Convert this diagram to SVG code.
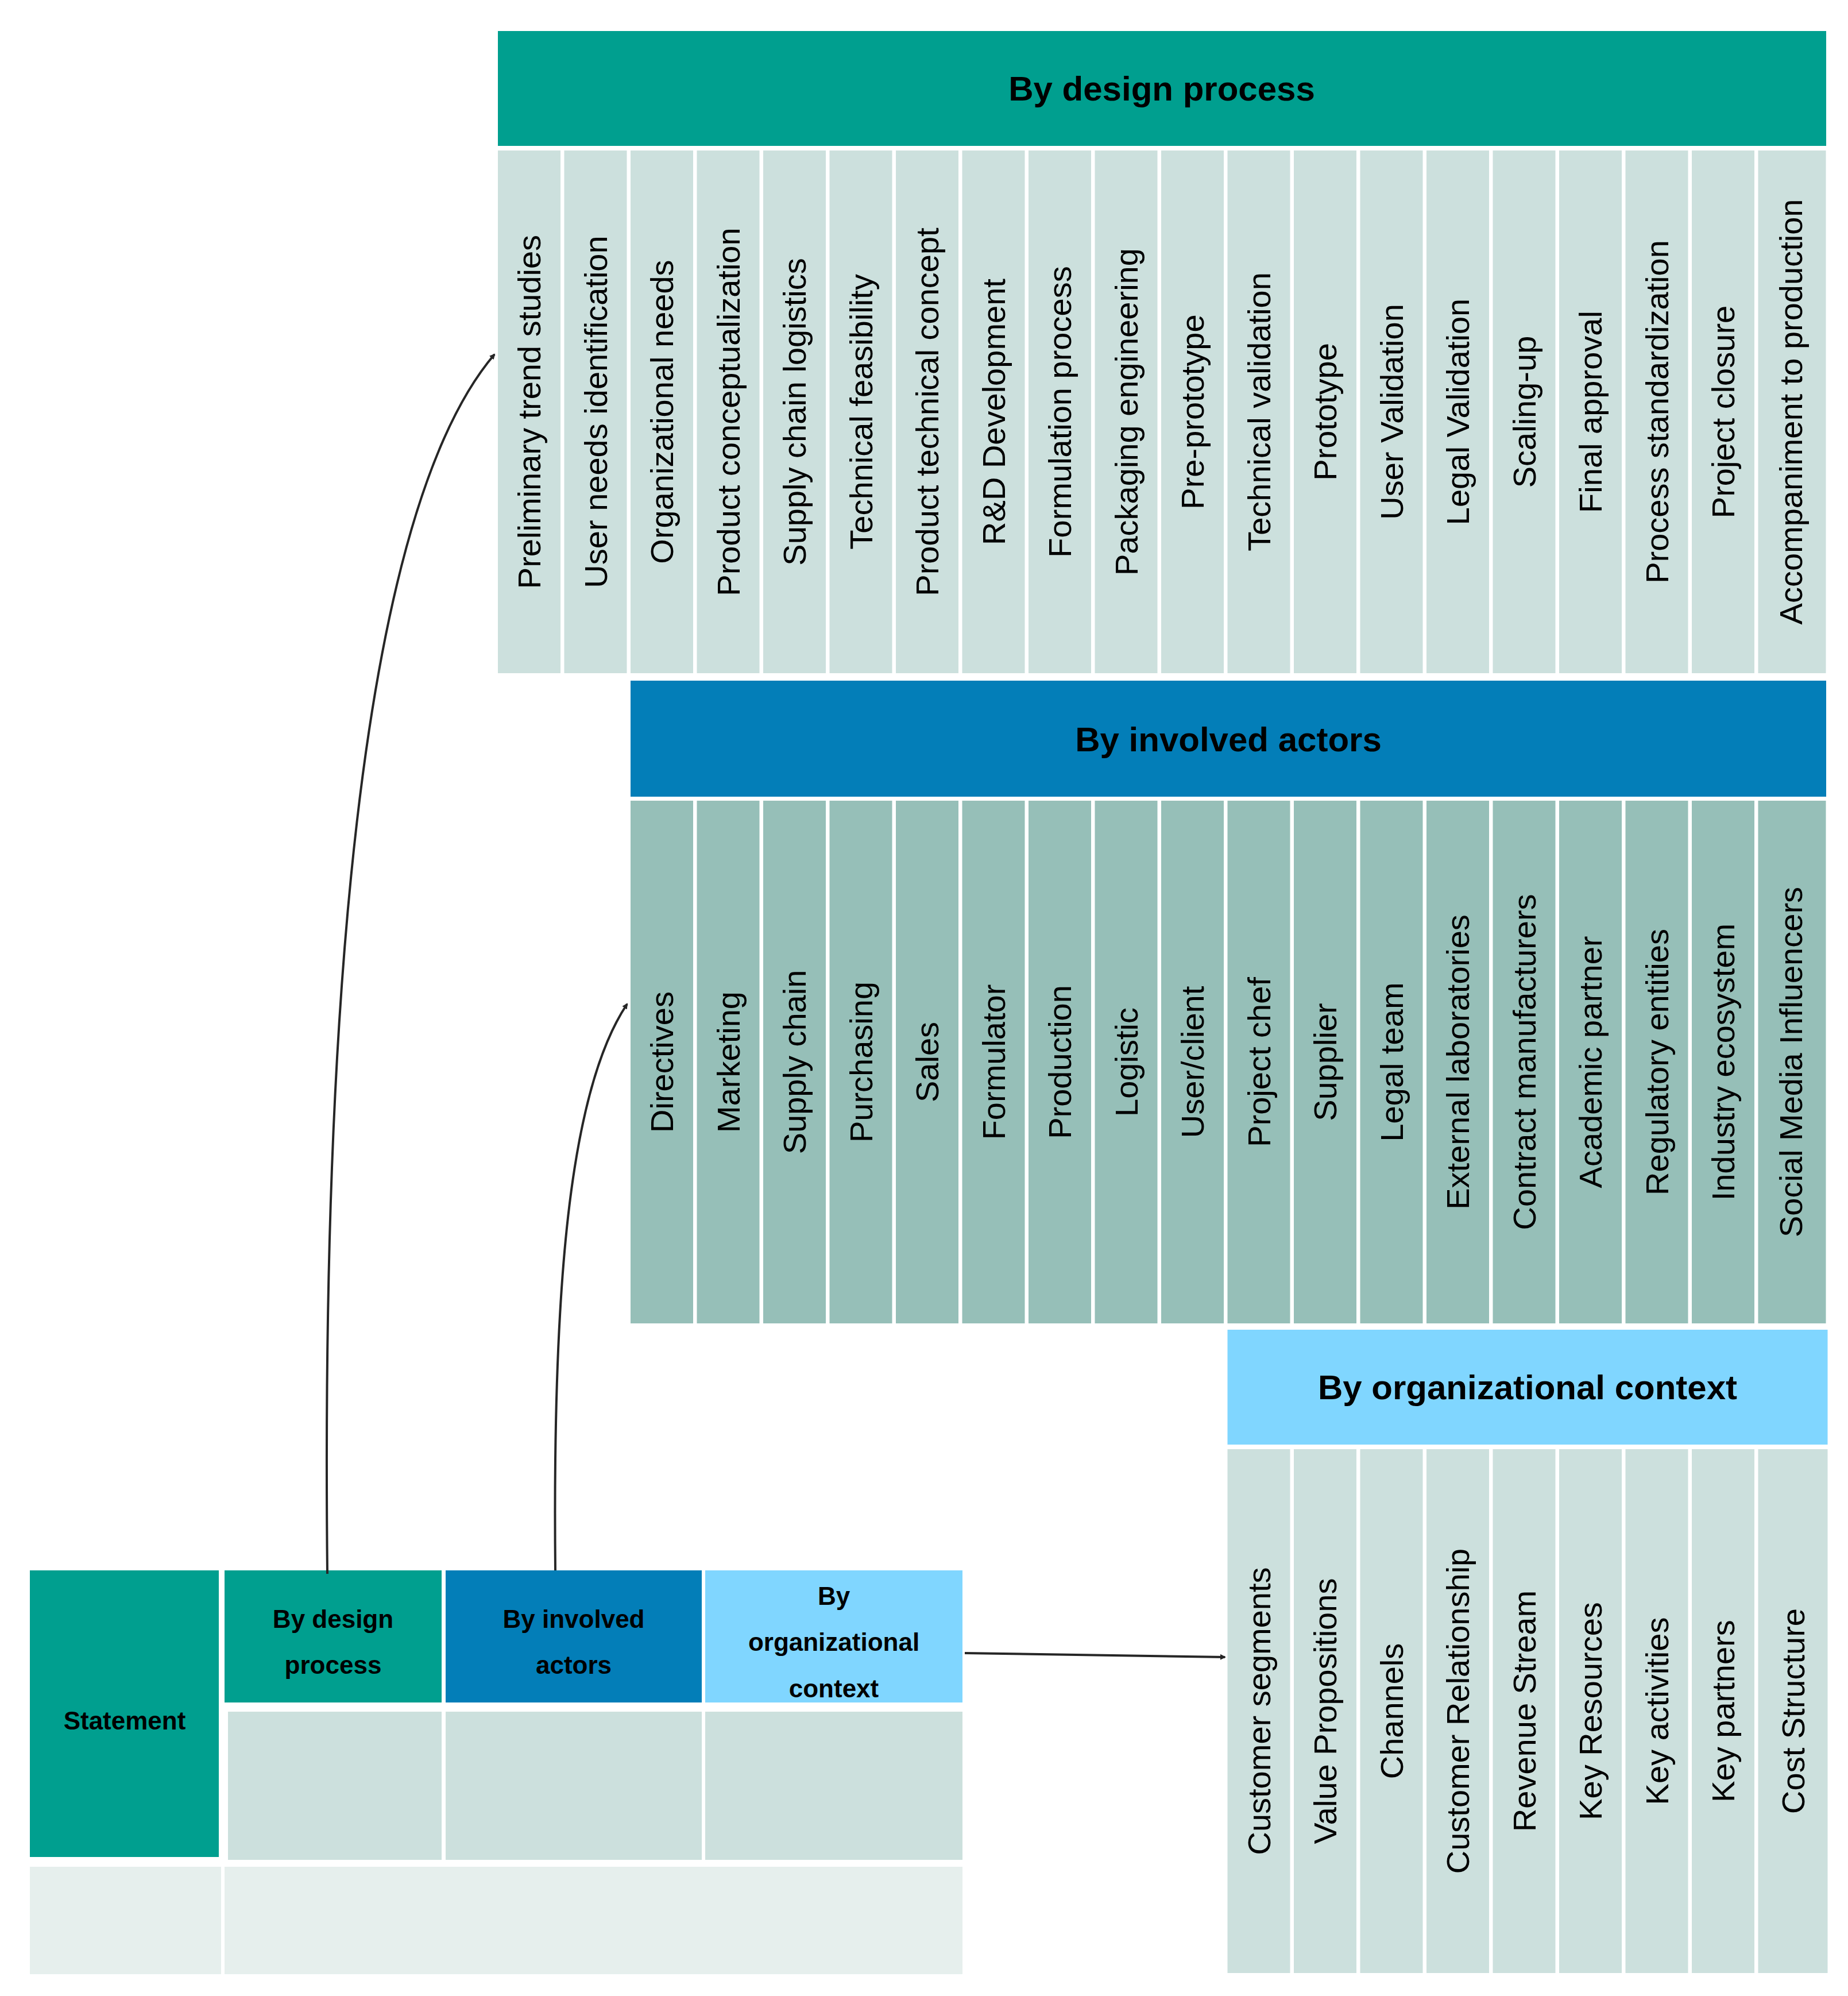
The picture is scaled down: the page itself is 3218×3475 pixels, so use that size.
<svg xmlns="http://www.w3.org/2000/svg" width="3218" height="3475" viewBox="0 0 3218 3475">
<style>
.v{font-family:"Liberation Sans",Arial,sans-serif;font-size:56px;fill:#000;text-anchor:middle;dominant-baseline:central}
.h{font-family:"Liberation Sans",Arial,sans-serif;font-size:60px;font-weight:bold;fill:#000;text-anchor:middle;dominant-baseline:central}
.b{font-family:"Liberation Sans",Arial,sans-serif;font-size:44px;font-weight:bold;fill:#000;text-anchor:middle;dominant-baseline:central}
.c1{fill:#CCE0DD}.c2{fill:#96BFB8}.c3{fill:#E6EFED}
.conn{fill:none;stroke:#262626;stroke-width:4}
</style>
<defs><marker id="ah" markerWidth="10" markerHeight="10" refX="8" refY="5" orient="auto" markerUnits="userSpaceOnUse" viewBox="0 0 10 10"><path d="M0,0 L10,5 L0,10 z" fill="#262626"/></marker></defs>
<rect width="3218" height="3475" fill="#fff"/>
<g id="design-process">
<rect x="867" y="54" width="2313" height="200" fill="#009F8F"/>
<text class="h" x="2023" y="154">By design process</text>
<rect class="c1" x="867" y="262" width="109" height="910"/><text class="v" transform="translate(921.5,717) rotate(-90)">Preliminary trend studies</text>
<rect class="c1" x="982.5" y="262" width="109" height="910"/><text class="v" transform="translate(1037,717) rotate(-90)">User needs identification</text>
<rect class="c1" x="1098" y="262" width="109" height="910"/><text class="v" transform="translate(1152.5,717) rotate(-90)">Organizational needs</text>
<rect class="c1" x="1213.5" y="262" width="109" height="910"/><text class="v" transform="translate(1268,717) rotate(-90)">Product conceptualization</text>
<rect class="c1" x="1329" y="262" width="109" height="910"/><text class="v" transform="translate(1383.5,717) rotate(-90)">Supply chain logistics</text>
<rect class="c1" x="1444.5" y="262" width="109" height="910"/><text class="v" transform="translate(1499,717) rotate(-90)">Technical feasibility</text>
<rect class="c1" x="1560" y="262" width="109" height="910"/><text class="v" transform="translate(1614.5,717) rotate(-90)">Product technical concept</text>
<rect class="c1" x="1675.5" y="262" width="109" height="910"/><text class="v" transform="translate(1730,717) rotate(-90)">R&amp;D Development</text>
<rect class="c1" x="1791" y="262" width="109" height="910"/><text class="v" transform="translate(1845.5,717) rotate(-90)">Formulation process</text>
<rect class="c1" x="1906.5" y="262" width="109" height="910"/><text class="v" transform="translate(1961,717) rotate(-90)">Packaging engineering</text>
<rect class="c1" x="2022" y="262" width="109" height="910"/><text class="v" transform="translate(2076.5,717) rotate(-90)">Pre-prototype</text>
<rect class="c1" x="2137.5" y="262" width="109" height="910"/><text class="v" transform="translate(2192,717) rotate(-90)">Technical validation</text>
<rect class="c1" x="2253" y="262" width="109" height="910"/><text class="v" transform="translate(2307.5,717) rotate(-90)">Prototype</text>
<rect class="c1" x="2368.5" y="262" width="109" height="910"/><text class="v" transform="translate(2423,717) rotate(-90)">User Validation</text>
<rect class="c1" x="2484" y="262" width="109" height="910"/><text class="v" transform="translate(2538.5,717) rotate(-90)">Legal Validation</text>
<rect class="c1" x="2599.5" y="262" width="109" height="910"/><text class="v" transform="translate(2654,717) rotate(-90)">Scaling-up</text>
<rect class="c1" x="2715" y="262" width="109" height="910"/><text class="v" transform="translate(2769.5,717) rotate(-90)">Final approval</text>
<rect class="c1" x="2830.5" y="262" width="109" height="910"/><text class="v" transform="translate(2885,717) rotate(-90)">Process standardization</text>
<rect class="c1" x="2946" y="262" width="109" height="910"/><text class="v" transform="translate(3000.5,717) rotate(-90)">Project closure</text>
<rect class="c1" x="3061.5" y="262" width="118" height="910"/><text class="v" transform="translate(3118,717) rotate(-90)">Accompaniment to production</text>
</g>
<g id="involved-actors">
<rect x="1098" y="1185" width="2082" height="202" fill="#037EB8"/>
<text class="h" x="2139" y="1287">By involved actors</text>
<rect class="c2" x="1098" y="1394" width="109" height="910"/><text class="v" transform="translate(1152.5,1849) rotate(-90)">Directives</text>
<rect class="c2" x="1213.5" y="1394" width="109" height="910"/><text class="v" transform="translate(1268,1849) rotate(-90)">Marketing</text>
<rect class="c2" x="1329" y="1394" width="109" height="910"/><text class="v" transform="translate(1383.5,1849) rotate(-90)">Supply chain</text>
<rect class="c2" x="1444.5" y="1394" width="109" height="910"/><text class="v" transform="translate(1499,1849) rotate(-90)">Purchasing</text>
<rect class="c2" x="1560" y="1394" width="109" height="910"/><text class="v" transform="translate(1614.5,1849) rotate(-90)">Sales</text>
<rect class="c2" x="1675.5" y="1394" width="109" height="910"/><text class="v" transform="translate(1730,1849) rotate(-90)">Formulator</text>
<rect class="c2" x="1791" y="1394" width="109" height="910"/><text class="v" transform="translate(1845.5,1849) rotate(-90)">Production</text>
<rect class="c2" x="1906.5" y="1394" width="109" height="910"/><text class="v" transform="translate(1961,1849) rotate(-90)">Logistic</text>
<rect class="c2" x="2022" y="1394" width="109" height="910"/><text class="v" transform="translate(2076.5,1849) rotate(-90)">User/client</text>
<rect class="c2" x="2137.5" y="1394" width="109" height="910"/><text class="v" transform="translate(2192,1849) rotate(-90)">Project chef</text>
<rect class="c2" x="2253" y="1394" width="109" height="910"/><text class="v" transform="translate(2307.5,1849) rotate(-90)">Supplier</text>
<rect class="c2" x="2368.5" y="1394" width="109" height="910"/><text class="v" transform="translate(2423,1849) rotate(-90)">Legal team</text>
<rect class="c2" x="2484" y="1394" width="109" height="910"/><text class="v" transform="translate(2538.5,1849) rotate(-90)">External laboratories</text>
<rect class="c2" x="2599.5" y="1394" width="109" height="910"/><text class="v" transform="translate(2654,1849) rotate(-90)">Contract manufacturers</text>
<rect class="c2" x="2715" y="1394" width="109" height="910"/><text class="v" transform="translate(2769.5,1849) rotate(-90)">Academic partner</text>
<rect class="c2" x="2830.5" y="1394" width="109" height="910"/><text class="v" transform="translate(2885,1849) rotate(-90)">Regulatory entities</text>
<rect class="c2" x="2946" y="1394" width="109" height="910"/><text class="v" transform="translate(3000.5,1849) rotate(-90)">Industry ecosystem</text>
<rect class="c2" x="3061.5" y="1394" width="118" height="910"/><text class="v" transform="translate(3118,1849) rotate(-90)">Social Media Influencers</text>
</g>
<g id="organizational-context">
<rect x="2137.5" y="2315" width="1045" height="200" fill="#80D6FF"/>
<text class="h" x="2660" y="2415">By organizational context</text>
<rect class="c1" x="2137.5" y="2523" width="109" height="912"/><text class="v" transform="translate(2192,2979) rotate(-90)">Customer segments</text>
<rect class="c1" x="2253" y="2523" width="109" height="912"/><text class="v" transform="translate(2307.5,2979) rotate(-90)">Value Propositions</text>
<rect class="c1" x="2368.5" y="2523" width="109" height="912"/><text class="v" transform="translate(2423,2979) rotate(-90)">Channels</text>
<rect class="c1" x="2484" y="2523" width="109" height="912"/><text class="v" transform="translate(2538.5,2979) rotate(-90)">Customer Relationship</text>
<rect class="c1" x="2599.5" y="2523" width="109" height="912"/><text class="v" transform="translate(2654,2979) rotate(-90)">Revenue Stream</text>
<rect class="c1" x="2715" y="2523" width="109" height="912"/><text class="v" transform="translate(2769.5,2979) rotate(-90)">Key Resources</text>
<rect class="c1" x="2830.5" y="2523" width="109" height="912"/><text class="v" transform="translate(2885,2979) rotate(-90)">Key activities</text>
<rect class="c1" x="2946" y="2523" width="109" height="912"/><text class="v" transform="translate(3000.5,2979) rotate(-90)">Key partners</text>
<rect class="c1" x="3061.5" y="2523" width="121" height="912"/><text class="v" transform="translate(3122,2979) rotate(-90)">Cost Structure</text>
</g>
<g id="statement-table">
<rect x="52" y="2734" width="329" height="499" fill="#009F8F"/>
<text class="b" x="217" y="2995">Statement</text>
<rect x="391" y="2734" width="378" height="230" fill="#009F8F"/>
<text class="b" x="580" y="2818">By design</text><text class="b" x="580" y="2898">process</text>
<rect x="776" y="2734" width="446" height="230" fill="#037EB8"/>
<text class="b" x="999" y="2818">By involved</text><text class="b" x="999" y="2898">actors</text>
<rect x="1228" y="2734" width="448" height="230" fill="#80D6FF"/>
<text class="b" x="1452" y="2778">By</text><text class="b" x="1452" y="2858">organizational</text><text class="b" x="1452" y="2939">context</text>
<rect class="c1" x="397" y="2980" width="372" height="258"/>
<rect class="c1" x="776" y="2980" width="446" height="258"/>
<rect class="c1" x="1228" y="2980" width="448" height="258"/>
<rect class="c3" x="52" y="3250" width="333" height="187"/>
<rect class="c3" x="391" y="3250" width="1285" height="187"/>
</g>
<g id="connectors">
<path class="conn" d="M570 2740 C 560 1800, 620 900, 861 617" marker-end="url(#ah)"/>
<path class="conn" d="M967 2734 C 962 2250, 990 1900, 1092 1748" marker-end="url(#ah)"/>
<path class="conn" d="M1680 2878 L 2133 2885" marker-end="url(#ah)"/>
</g>
</svg>
